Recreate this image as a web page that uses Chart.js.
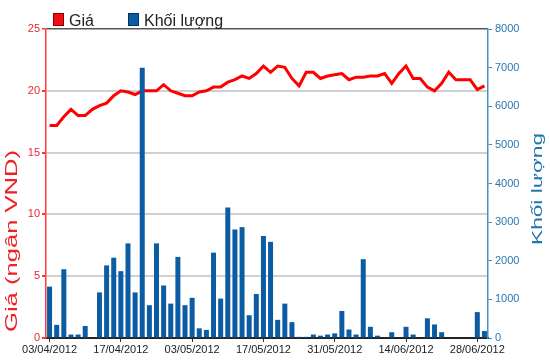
<!DOCTYPE html>
<html>
<head>
<meta charset="utf-8">
<title>Giá và khối lượng</title>
<script src="https://cdn.jsdelivr.net/npm/chart.js@4.4.1/dist/chart.umd.min.js"></script>
<style>
  html, body { margin: 0; padding: 0; background: #fff; }
  #wrap { width: 550px; height: 364px; }
</style>
</head>
<body>
<div id="wrap"><canvas id="chart" width="550" height="364"></canvas></div>
<script>
// trading days 03/04/2012 - 29/06/2012
const dates = [
  '03/04/2012', '04/04/2012', '05/04/2012', '06/04/2012', '09/04/2012', '10/04/2012', '11/04/2012', '12/04/2012', '13/04/2012', '16/04/2012',
  '17/04/2012', '18/04/2012', '19/04/2012', '20/04/2012', '23/04/2012', '24/04/2012', '25/04/2012', '26/04/2012', '27/04/2012', '02/05/2012',
  '03/05/2012', '04/05/2012', '07/05/2012', '08/05/2012', '09/05/2012', '10/05/2012', '11/05/2012', '14/05/2012', '15/05/2012', '16/05/2012',
  '17/05/2012', '18/05/2012', '21/05/2012', '22/05/2012', '23/05/2012', '24/05/2012', '25/05/2012', '28/05/2012', '29/05/2012', '30/05/2012',
  '31/05/2012', '01/06/2012', '04/06/2012', '05/06/2012', '06/06/2012', '07/06/2012', '08/06/2012', '11/06/2012', '12/06/2012', '13/06/2012',
  '14/06/2012', '15/06/2012', '18/06/2012', '19/06/2012', '20/06/2012', '21/06/2012', '22/06/2012', '25/06/2012', '26/06/2012', '27/06/2012',
  '28/06/2012', '29/06/2012'
];

// closing price (thousand VND)
const prices = [
  17.2, 17.2, 17.9, 18.5, 18.0, 18.0, 18.5, 18.8, 19.0, 19.6,
  20.0, 19.9, 19.7, 20.0, 20.0, 20.0, 20.5, 20.0, 19.8, 19.6,
  19.6, 19.9, 20.0, 20.3, 20.3, 20.7, 20.9, 21.2, 21.0, 21.4,
  22.0, 21.5, 22.0, 21.9, 21.0, 20.4, 21.5, 21.5, 21.0, 21.2,
  21.3, 21.4, 20.9, 21.1, 21.1, 21.2, 21.2, 21.4, 20.6, 21.4,
  22.0, 21.0, 21.0, 20.3, 20.0, 20.6, 21.5, 20.9, 20.9, 20.9,
  20.1, 20.4
];

// traded volume
const volumes = [
  1330, 340, 1780, 90, 90, 310, 0, 1180, 1880, 2080,
  1730, 2450, 1180, 7000, 850, 2450, 1360, 890, 2100, 850,
  1040, 250, 210, 2210, 1020, 3380, 2810, 2870, 590, 1140,
  2640, 2490, 470, 890, 410, 30, 30, 90, 60, 90,
  120, 700, 220, 90, 2040, 290, 60, 0, 150, 0,
  290, 90, 0, 510, 350, 150, 0, 0, 0, 0,
  670, 180
];

const seriesNames = ['Giá', 'Khối lượng'];
const axisTitles = ['Giá (ngân VND)', 'Khối lượng'];

// check if the narrow font is there, otherwise use a smaller normal one
function hasFont(name) {
  const c = document.createElement('canvas').getContext('2d');
  c.font = '20px monospace';
  const a = c.measureText('03/04/2012').width;
  c.font = '20px "' + name + '", monospace';
  return c.measureText('03/04/2012').width !== a;
}
const xFont = hasFont('Liberation Sans Narrow')
  ? { family: '"Liberation Sans Narrow", "Arial Narrow", sans-serif', size: 14 }
  : { family: '"Liberation Sans", Arial, sans-serif', size: 11 };

// rotated axis title, stretched to the length used in the original
function drawTitle(ctx, text, x, yStart, len, color, size) {
  ctx.save();
  ctx.font = size + 'px "Liberation Sans", Arial, sans-serif';
  const w = ctx.measureText(text).width;
  ctx.translate(x, yStart);
  ctx.rotate(-Math.PI / 2);
  ctx.scale(len / w, 1);
  ctx.fillStyle = color;
  ctx.textBaseline = 'middle';
  ctx.textAlign = 'left';
  ctx.fillText(text, 0, 0);
  ctx.restore();
}

function legendItem(ctx, x, fill, stroke, text) {
  ctx.fillStyle = fill;
  ctx.fillRect(x, 13, 11, 13);
  ctx.strokeStyle = stroke;
  ctx.lineWidth = 1;
  ctx.strokeRect(x + 0.5, 13.5, 10, 12);
  ctx.fillStyle = '#222';
  ctx.font = '16px "Liberation Sans", Arial, sans-serif';
  ctx.textBaseline = 'alphabetic';
  ctx.fillText(text, x + 16, 26);
}

const extras = {
  id: 'extras',
  afterDraw(chart) {
    const ctx = chart.ctx;
    drawTitle(ctx, axisTitles[0], 13, 332, 182, '#ee2226', 16);
    drawTitle(ctx, axisTitles[1], 538, 245, 112, '#1f77ae', 15);
    ctx.save();
    legendItem(ctx, 53, '#f01010', '#8a0000', seriesNames[0]);
    legendItem(ctx, 128, '#0c5ca3', '#06325a', seriesNames[1]);
    ctx.restore();
  }
};

new Chart(document.getElementById('chart'), {
  type: 'bar',
  data: {
    labels: dates,
    datasets: [
      {
        type: 'bar',
        label: seriesNames[1],
        data: volumes,
        yAxisID: 'y1',
        backgroundColor: '#0c5ca3',
        barPercentage: 0.7,
        categoryPercentage: 1,
        order: 0
      },
      {
        type: 'line',
        label: seriesNames[0],
        data: prices,
        yAxisID: 'y',
        borderColor: '#ff0000',
        borderWidth: 3,
        pointRadius: 0,
        tension: 0,
        order: 1
      }
    ]
  },
  options: {
    responsive: false,
    animation: false,
    layout: { padding: { top: 29, left: 0, right: 0, bottom: 0 } },
    plugins: { legend: { display: false }, tooltip: { enabled: false } },
    scales: {
      x: {
        offset: true,
        grid: {
          drawOnChartArea: false,
          offset: false,
          tickLength: 4,
          tickColor: ctx => ctx.index % 10 === 0 ? '#333' : 'rgba(0,0,0,0)'
        },
        border: { color: '#222', width: 2 },
        ticks: {
          autoSkip: false,
          maxRotation: 0,
          minRotation: 0,
          padding: 1,
          color: '#222',
          font: xFont,
          callback: (v, i) => i % 10 === 0 ? dates[i] : ''
        },
        afterFit: s => { s.height = 26; }
      },
      y: {
        position: 'left',
        min: 0,
        max: 25,
        ticks: { stepSize: 5, color: '#e8262b', font: { size: 11 }, padding: 2 },
        grid: {
          color: ctx => ctx.tick.value === 25 ? '#555' : (ctx.tick.value === 0 ? 'rgba(0,0,0,0)' : '#d0d0d0'),
          lineWidth: ctx => ctx.tick.value === 25 ? 1.5 : 2,
          tickColor: '#f33',
          tickLength: 4
        },
        border: { color: '#ff3b3b', width: 1.5 },
        afterFit: s => { s.width = 46; }
      },
      y1: {
        position: 'right',
        min: 0,
        max: 8000,
        ticks: {
          stepSize: 1000,
          color: '#2a78b0',
          font: { size: 11 },
          padding: 3,
          callback: v => String(v)
        },
        grid: { drawOnChartArea: false, tickColor: '#3f8cc0', tickLength: 4 },
        border: { color: '#4a90c0', width: 1.5 },
        afterFit: s => { s.width = 62; }
      }
    }
  },
  plugins: [extras]
});
</script>
</body>
</html>
